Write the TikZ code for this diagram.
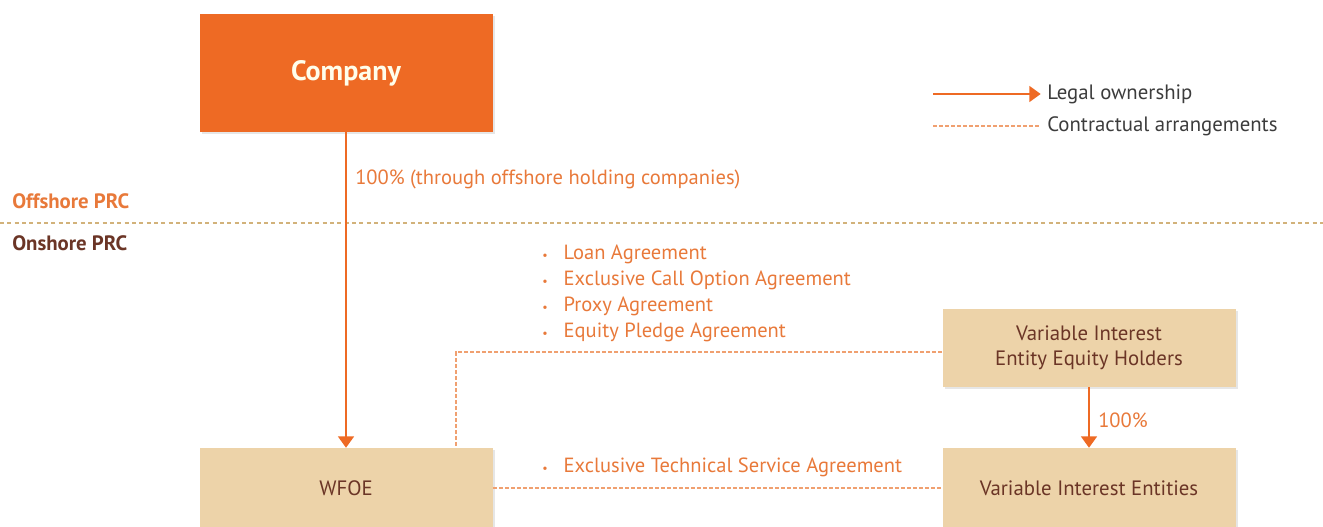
\documentclass[tikz,border=0pt]{standalone}
\usepackage{fontspec}
\setmainfont{PT Sans}
\usetikzlibrary{arrows.meta,shadows}
\definecolor{boxorange}{HTML}{EE6A24}
\definecolor{boxtan}{HTML}{EDD3A9}
\definecolor{labelorange}{HTML}{E8793A}
\definecolor{darkbrown}{HTML}{6B3526}
\definecolor{dashorange}{HTML}{F0A070}
\definecolor{divider}{HTML}{D2B27A}
\definecolor{legendgrey}{HTML}{3C3C3C}
\tikzset{
  entitybox/.style={fill=boxtan, text=darkbrown, minimum width=219.75pt, align=center,
    font=\fontsize{15.6}{18.5}\selectfont, inner sep=0.75pt,
    drop shadow={shadow xshift=1.5pt, shadow yshift=-1.5pt, opacity=0.2}},
  ownership/.style={draw=boxorange, line width=1.1pt, -{Triangle[width=12pt,length=8.5pt]}},
  contract/.style={draw=dashorange, line width=1.1pt, dash pattern=on 3pt off 1.5pt},
  orangetext/.style={text=labelorange, inner sep=0.75pt, font=\fontsize{15.4}{19.5}\selectfont}
}
\begin{document}
\begin{tikzpicture}[x=0.75pt,y=0.75pt,yscale=-1,xscale=1]
    \useasboundingbox (0,0) rectangle (1323,527);

    % Boxes
    \node (company) [entitybox, fill=boxorange, text=white!92!yellow, minimum height=88.5pt,
      font=\fontsize{21}{24}\selectfont\bfseries] at (346,73) {Company};
    \node (wfoe) [entitybox, minimum height=60pt] at (346,488) {WFOE};
    \node (holders) [entitybox, minimum height=58.5pt] at (1089,348) {Variable Interest\\Entity Equity Holders};
    \node (vie) [entitybox, minimum height=60pt] at (1089,488) {Variable Interest Entities};

    % Offshore / onshore divider
    \coordinate (divleft) at (0,223);
    \coordinate (divright) at (1323,223);
    \draw [draw=divider, line width=1pt, dash pattern=on 3pt off 2.5pt] (divleft) -- (divright);
    \node (offshore) [anchor=west, inner sep=0.75pt, text=labelorange, font=\fontsize{15.6}{18}\selectfont\bfseries] at (11,201) {Offshore PRC};
    \node (onshore) [anchor=west, inner sep=0.75pt, text=darkbrown, font=\fontsize{15.6}{18}\selectfont\bfseries] at (11,243) {Onshore PRC};

    % Legal ownership
    \draw [ownership] (company) -- (wfoe);
    \node (throughlabel) [orangetext, anchor=west] at (354,179) {100\% (through offshore holding companies)};
    \draw [ownership] (holders) -- (vie);
    \node (vielabel) [orangetext, anchor=west] at (1097,420) {100\%};

    % Contractual arrangements
    \draw [contract] ([yshift=3pt]holders.west) -| ([xshift=82.5pt]wfoe.north);
    \draw [contract] (wfoe.east) -- (vie.west);
    \node (agreements) [orangetext, anchor=north west, align=left] at (541,244)
      {{\small\textbullet}\hspace{12pt}Loan Agreement\\
       {\small\textbullet}\hspace{12pt}Exclusive Call Option Agreement\\
       {\small\textbullet}\hspace{12pt}Proxy Agreement\\
       {\small\textbullet}\hspace{12pt}Equity Pledge Agreement};
    \node (techservice) [orangetext, anchor=west] at (541,467)
      {{\small\textbullet}\hspace{12pt}Exclusive Technical Service Agreement};

    % Legend
    \coordinate (ownstart) at (933,94);
    \node (ownlegend) [anchor=west, inner sep=0.75pt, text=legendgrey, font=\fontsize{15.6}{18}\selectfont] at (1046,94) {Legal ownership};
    \draw [ownership] (ownstart) -- ([xshift=-4pt]ownlegend.west);
    \coordinate (contractstart) at (933,126);
    \node (contractlegend) [anchor=west, inner sep=0.75pt, text=legendgrey, font=\fontsize{15.6}{18}\selectfont] at (1046,126) {Contractual arrangements};
    \draw [contract] (contractstart) -- ([xshift=-4pt]contractlegend.west);

\end{tikzpicture}
\end{document}
